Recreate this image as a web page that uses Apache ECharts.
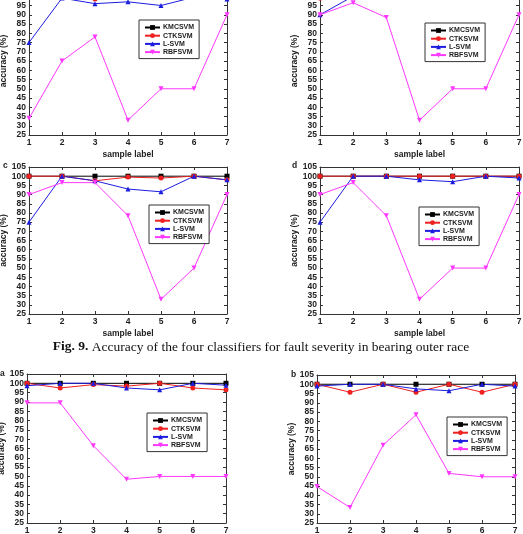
<!DOCTYPE html>
<html>
<head>
<meta charset="utf-8">
<script src="https://cdn.jsdelivr.net/npm/echarts@6/dist/echarts.min.js"></script>
<style>
  html, body { margin: 0; padding: 0; background: #fff; }
  #chart { width: 523px; height: 534px; }
</style>
</head>
<body>
<div id="chart"></div>
<script>
const sampleLabels = ['1', '2', '3', '4', '5', '6', '7']
const seriesNames = ['KMCSVM', 'CTKSVM', 'L-SVM', 'RBFSVM']

// top row (panels cut off by the page edge)
const tlKMCSVM = [100, 100, 100, 100, 100, 100, 100]
const tlCTKSVM = [100, 100, 98.5, 100, 100, 100, 100]
const tlLSVM = [75, 99, 96, 97, 95, 99.5, 98.5]
const tlRBFSVM = [34, 65, 78, 33, 50, 50, 90]

const trKMCSVM = [100, 100, 100, 100, 100, 100, 100]
const trCTKSVM = [99, 100, 100, 100, 100, 100, 100]
const trLSVM = [90, 100, 100, 100, 100, 100, 100]
const trRBFSVM = [90, 96.5, 88.5, 33, 50, 50, 90]

// c
const cKMCSVM = [100, 100, 100, 100, 100, 100, 100]
const cCTKSVM = [100, 100, 97.5, 99.5, 99, 100, 98]
const cLSVM = [75, 100, 97.5, 93, 91.5, 100, 98]
const cRBFSVM = [90, 96.5, 96.5, 78.5, 33, 50, 90]

// d
const dKMCSVM = [100, 100, 100, 100, 100, 100, 100]
const dCTKSVM = [100, 100, 100, 100, 100, 100, 100]
const dLSVM = [75, 100, 100, 98, 97, 100, 99]
const dRBFSVM = [90, 96.5, 78.5, 33, 50, 50, 90]

// bottom a
const aKMCSVM = [100, 100, 100, 100, 100, 100, 100]
const aCTKSVM = [100, 97.5, 99.3, 98.5, 100, 97.5, 96.5]
const aLSVM = [98.7, 100, 100, 97.5, 96.5, 100, 99]
const aRBFSVM = [89.5, 89.5, 66.5, 48.5, 50, 50, 50]

// bottom b
const bKMCSVM = [100, 100, 100, 100, 100, 100, 100]
const bCTKSVM = [100, 95.7, 100, 95.7, 100, 95.7, 100]
const bLSVM = [99, 100, 100, 97.5, 96.5, 100, 99]
const bRBFSVM = [44.7, 33.4, 67, 83.5, 51.8, 50, 50]

const colors = ['#000000', '#ee2020', '#1c1ce0', '#ff38ff']
const symbols = ['rect', 'circle', 'triangle', 'path://M0,0L10,0L5,10Z']

const panels = [
  { grid: { left: 29, top: -13, width: 198, height: 148 }, legend: { left: 139, top: 20 }, data: [tlKMCSVM, tlCTKSVM, tlLSVM, tlRBFSVM] },
  { grid: { left: 320, top: -13, width: 199, height: 148 }, legend: { left: 425, top: 23 }, data: [trKMCSVM, trCTKSVM, trLSVM, trRBFSVM] },
  { grid: { left: 29, top: 167, width: 198, height: 147 }, legend: { left: 149, top: 205 }, data: [cKMCSVM, cCTKSVM, cLSVM, cRBFSVM] },
  { grid: { left: 320, top: 167, width: 199, height: 147 }, legend: { left: 419, top: 207 }, data: [dKMCSVM, dCTKSVM, dLSVM, dRBFSVM] },
  { grid: { left: 27, top: 374, width: 199, height: 149 }, legend: { left: 147, top: 413 }, data: [aKMCSVM, aCTKSVM, aLSVM, aRBFSVM] },
  { grid: { left: 317, top: 375, width: 198, height: 148 }, legend: { left: 447, top: 417 }, data: [bKMCSVM, bCTKSVM, bLSVM, bRBFSVM] }
]

const labelFont = { fontFamily: 'Liberation Sans, Arial', fontWeight: 'bold', fontSize: 8.5, color: '#222' }
const frameLine = { show: true, lineStyle: { color: '#333', width: 1 } }
const tick = { show: true, inside: true, length: 3, lineStyle: { color: '#333' } }

const grid = []
const xAxis = []
const yAxis = []
const legend = []
const series = []

panels.forEach((p, i) => {
  grid.push({ ...p.grid, outerBoundsMode: 'none', containLabel: false })
  xAxis.push({
    type: 'category', gridIndex: i, data: sampleLabels, boundaryGap: false, position: 'bottom',
    axisLine: frameLine, axisTick: { ...tick, alignWithLabel: true },
    axisLabel: { ...labelFont, margin: 3 },
    name: 'sample label', nameLocation: 'middle', nameGap: 15, nameTextStyle: labelFont,
    splitLine: { show: false }
  })
  xAxis.push({
    type: 'category', gridIndex: i, data: sampleLabels, boundaryGap: false, position: 'top',
    axisLine: frameLine, axisTick: tick, axisLabel: { show: false }, splitLine: { show: false }
  })
  yAxis.push({
    type: 'value', gridIndex: i, min: 25, max: 105, interval: 5, position: 'left',
    axisLine: frameLine, axisTick: tick, axisLabel: { ...labelFont, margin: 3 },
    name: 'accuracy (%)', nameLocation: 'middle', nameGap: 20, nameRotate: 90, nameTextStyle: labelFont,
    splitLine: { show: false }
  })
  yAxis.push({
    type: 'value', gridIndex: i, min: 25, max: 105, interval: 5, position: 'right',
    axisLine: frameLine, axisTick: tick, axisLabel: { show: false }, splitLine: { show: false }
  })
  legend.push({
    orient: 'vertical', left: p.legend.left, top: p.legend.top, data: seriesNames,
    itemWidth: 15, itemHeight: 6, itemGap: 1.2, padding: [4, 5, 3, 5],
    borderColor: '#333', borderWidth: 1, backgroundColor: '#fff',
    textStyle: { fontFamily: 'Liberation Sans, Arial', fontWeight: 'bold', fontSize: 7, color: '#222', padding: [0, 0, 0, -2] },
    selectedMode: false
  })
  p.data.forEach((values, k) => {
    series.push({
      name: seriesNames[k], type: 'line', xAxisIndex: 2 * i, yAxisIndex: 2 * i,
      data: values, symbol: symbols[k], symbolSize: 5, showSymbol: true,
      lineStyle: { color: colors[k], width: 1 }, itemStyle: { color: colors[k] },
      animation: false
    })
  })
})

const chart = echarts.init(document.getElementById('chart'))
chart.setOption({
  backgroundColor: '#fff',
  animation: false,
  grid,
  xAxis,
  yAxis,
  legend,
  series,
  graphic: [
    { type: 'text', left: 3, top: 161, style: { text: 'c', font: 'bold 8.5px Liberation Sans', fill: '#222' } },
    { type: 'text', left: 292, top: 161, style: { text: 'd', font: 'bold 8.5px Liberation Sans', fill: '#222' } },
    { type: 'text', left: 0, top: 369, style: { text: 'a', font: 'bold 8.5px Liberation Sans', fill: '#222' } },
    { type: 'text', left: 291, top: 370, style: { text: 'b', font: 'bold 8.5px Liberation Sans', fill: '#222' } },
    {
      type: 'text', x: 261, y: 347,
      style: {
        text: '{b|Fig. 9.} Accuracy of the four classifiers for fault severity in bearing outer race',
        fontFamily: 'Liberation Serif', fontSize: 13.5, fill: '#111', align: 'center', verticalAlign: 'middle',
        rich: { b: { fontFamily: 'Liberation Serif', fontSize: 13.5, fontWeight: 'bold', fill: '#111' } }
      }
    }
  ]
})
</script>
</body>
</html>
